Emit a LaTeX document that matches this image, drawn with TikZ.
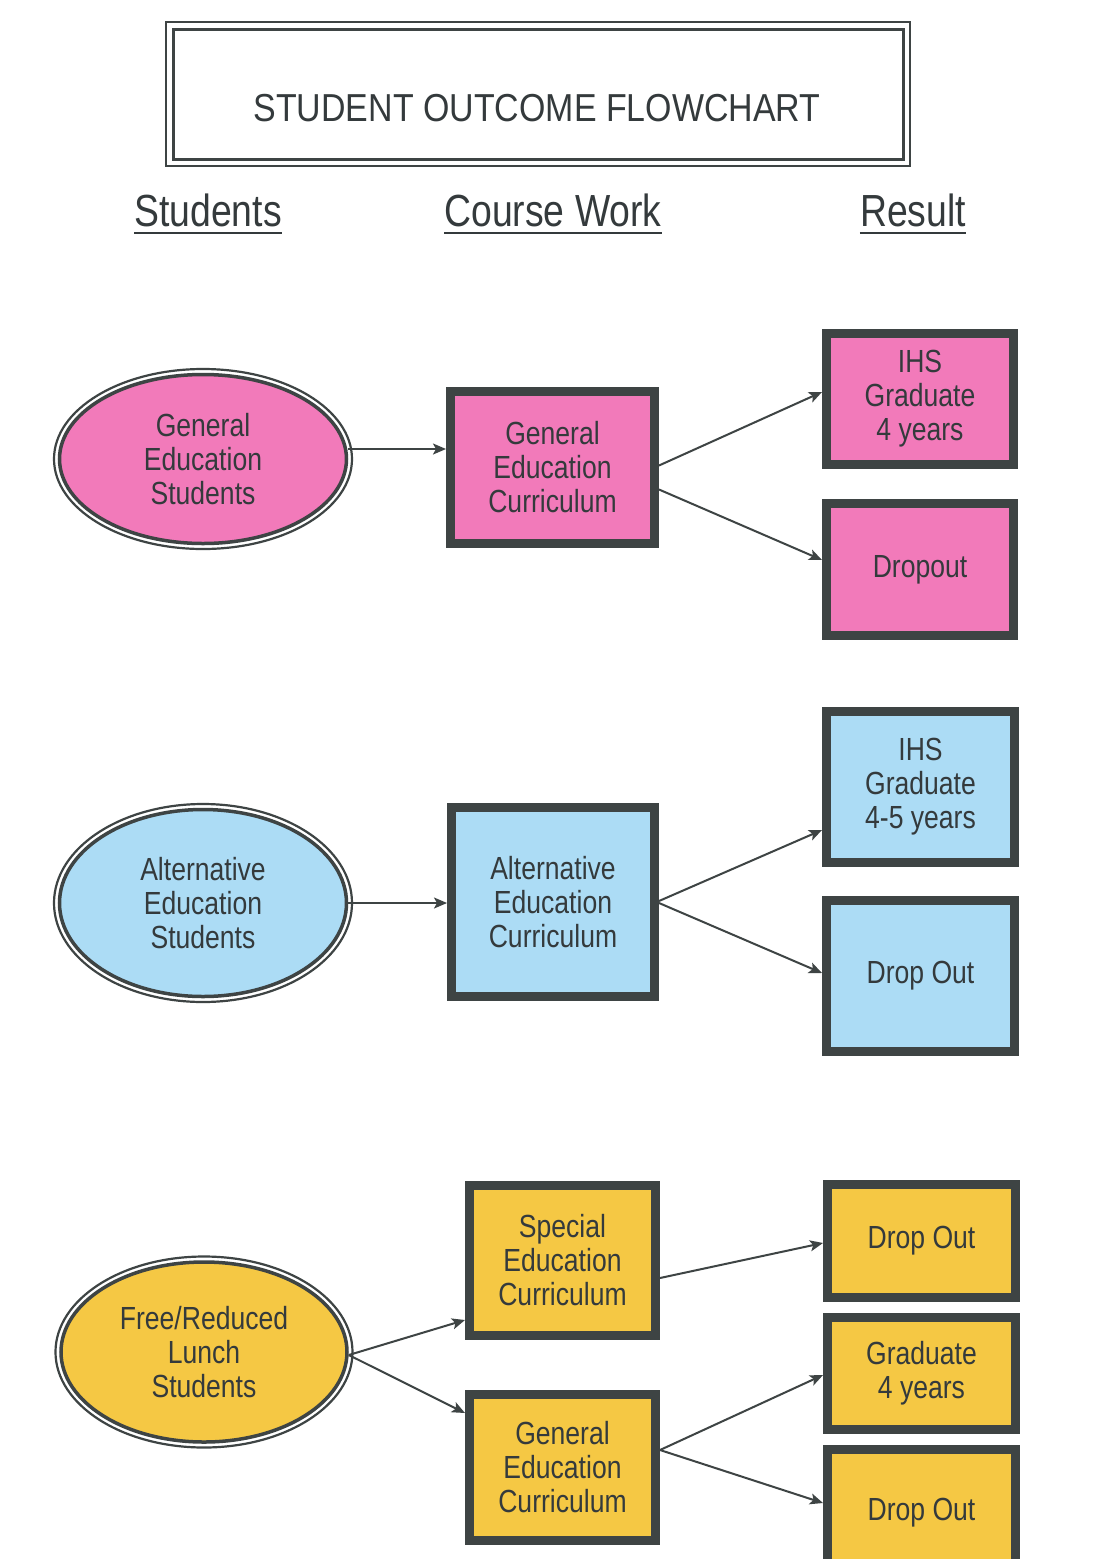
\documentclass[tikz,border=0pt]{standalone}
\usepackage{fontspec}
\setmainfont{Liberation Sans}[FakeStretch=0.83]
\newfontfamily\titlefont{Liberation Sans}[FakeStretch=0.87]
\usetikzlibrary{shapes.geometric,arrows.meta,calc}
\definecolor{pinkf}{RGB}{242,122,186}
\definecolor{bluef}{RGB}{172,220,245}
\definecolor{yelf}{RGB}{245,200,68}
\definecolor{edgec}{RGB}{62,68,68}
\definecolor{ink}{RGB}{52,58,60}
\begin{document}
\begin{tikzpicture}[x=1pt,y=-1pt,
  boxnode/.style={draw=edgec, line width=9pt, inner sep=0pt, align=center, text=ink, font=\fontsize{32}{34}\selectfont},
  ellnode/.style={ellipse, draw=edgec, line width=3.5pt, inner sep=0pt, align=center, text=ink, font=\fontsize{32}{34}\selectfont},
  ring/.style={draw=edgec, line width=2.2pt},
  arr/.style={draw=edgec, line width=2pt, -{Stealth[length=13pt,width=11pt,inset=3pt]}},
  head/.style={text=ink, font=\fontsize{45}{50}\selectfont, inner sep=0pt, anchor=base, text depth=0pt},
  uline/.style={draw=ink, line width=2.5pt}
]
\useasboundingbox (0,0) rectangle (1099,1559);
\fill[white] (0,0) rectangle (1099,1559);
\clip (0,0) rectangle (1099,1559);

% title
\draw[edgec, line width=2.2pt] (166,22) rectangle (910,166);
\draw[edgec, line width=3pt] (173,29) rectangle (903,159);
\node[anchor=base, text=ink, inner sep=0pt, font=\titlefont\fontsize{39}{44}\selectfont] (title) at (537,121) {STUDENT OUTCOME FLOWCHART};

% headers
\node[head] (h1) at (208,226) {Students};
\node[head] (h2) at (553,226) {Course Work};
\node[head] (h3) at (913,226) {Result};
\foreach \h in {h1,h2,h3}
  \draw[uline] ([yshift=-7pt]\h.south west) -- ([yshift=-7pt]\h.south east);

% row 1
\node[ellnode, fill=pinkf, minimum width=287pt, minimum height=169pt] (e1) at (203,459) {General\\Education\\Students};
\draw[ring] (e1.center) ellipse [x radius=149pt, y radius=90pt];
\node[boxnode, fill=pinkf, minimum width=204pt, minimum height=152pt] (m1) at (552.5,467.5) {General\\Education\\Curriculum};
\node[boxnode, fill=pinkf, minimum width=187pt, minimum height=131pt] (r1a) at (920,399) {IHS\\Graduate\\4 years};
\node[boxnode, fill=pinkf, minimum width=187pt, minimum height=132pt] (r1b) at (920,569.5) {Dropout};

% row 2
\node[ellnode, fill=bluef, minimum width=287pt, minimum height=187pt] (e2) at (203,903) {Alternative\\Education\\Students};
\draw[ring] (e2.center) ellipse [x radius=149pt, y radius=99pt];
\node[boxnode, fill=bluef, minimum width=203pt, minimum height=189pt] (m2) at (553,902) {Alternative\\Education\\Curriculum};
\node[boxnode, fill=bluef, minimum width=188pt, minimum height=151pt] (r2a) at (920.5,787) {IHS\\Graduate\\4-5 years};
\node[boxnode, fill=bluef, minimum width=188pt, minimum height=151pt] (r2b) at (920.5,976) {Drop Out};

% row 3
\node[ellnode, fill=yelf, minimum width=286pt, minimum height=180pt] (e3) at (204,1352) {Free/Reduced\\Lunch\\Students};
\draw[ring] (e3.center) ellipse [x radius=148.5pt, y radius=95.5pt];
\node[boxnode, fill=yelf, minimum width=186pt, minimum height=150pt] (sp) at (562.5,1260.5) {Special\\Education\\Curriculum};
\node[boxnode, fill=yelf, minimum width=186pt, minimum height=146pt] (ge) at (562.5,1467.5) {General\\Education\\Curriculum};
\node[boxnode, fill=yelf, minimum width=188pt, minimum height=113pt] (r3a) at (921.5,1241) {Drop Out};
\node[boxnode, fill=yelf, minimum width=188pt, minimum height=112pt] (r3b) at (921.5,1373.5) {Graduate\\4 years};
\node[boxnode, fill=yelf, minimum width=188pt, minimum height=126pt] (r3c) at (921.5,1512.5) {Drop Out};

% connectors row 1
\draw[arr] ([yshift=10pt]e1.east) coordinate (s1) -- (s1 -| m1.west);
\draw[arr] ([yshift=2pt]m1.east) -- ([yshift=7pt]r1a.west);
\draw[arr] ([yshift=-22pt]m1.east) -- ([yshift=9.5pt]r1b.west);

% connectors row 2
\draw[arr] (e2.east) -- (e2.east -| m2.west);
\draw[arr] ([yshift=1pt]m2.east) -- ([yshift=-43pt]r2a.west);
\draw[arr] ([yshift=-1pt]m2.east) -- ([yshift=3pt]r2b.west);

% connectors row 3
\draw[arr] ([yshift=-3pt]e3.east) -- ([yshift=-59.5pt]sp.west);
\draw[arr] ([yshift=-3pt]e3.east) -- ([yshift=54.5pt]ge.west);
\draw[arr] ([yshift=-17.5pt]sp.east) -- ([yshift=-2pt]r3a.west);
\draw[arr] ([yshift=17.5pt]ge.east) -- ([yshift=-1.5pt]r3b.west);
\draw[arr] ([yshift=17.5pt]ge.east) -- ([yshift=9.5pt]r3c.west);
\end{tikzpicture}
\end{document}
